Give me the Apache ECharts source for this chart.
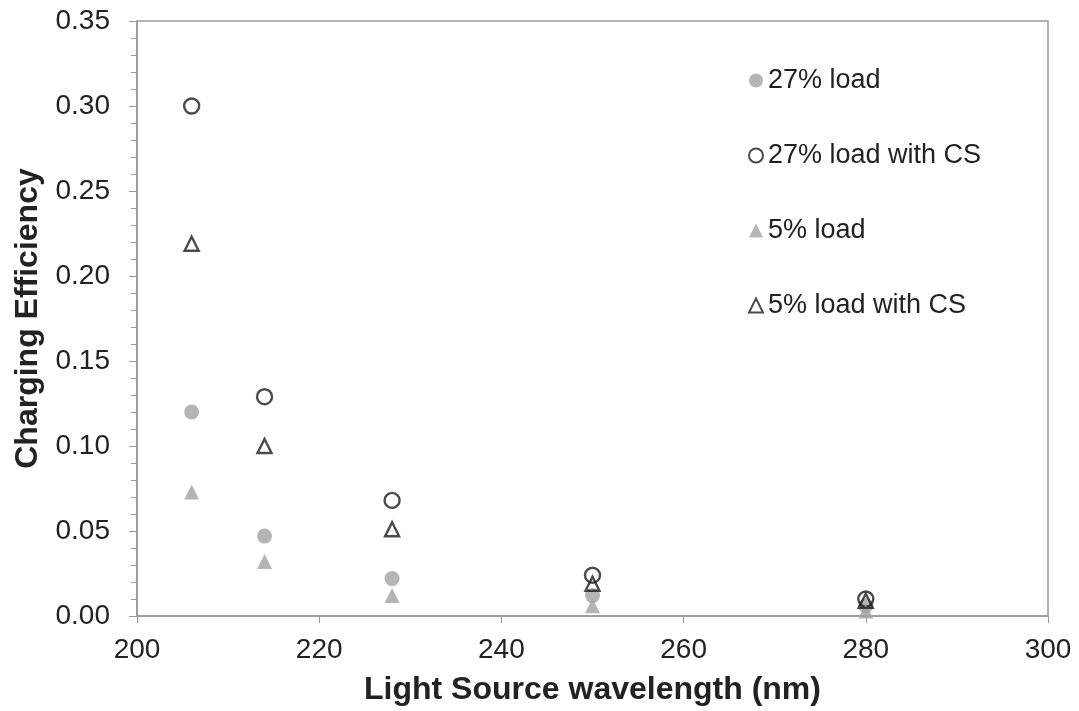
<!DOCTYPE html>
<html>
<head>
<meta charset="utf-8">
<title>Charging Efficiency</title>
<script src="https://cdn.jsdelivr.net/npm/echarts@6/dist/echarts.min.js"></script>
<style>
  html, body { margin: 0; padding: 0; background: #fff; }
  #chart { width: 1079px; height: 711px; }
</style>
</head>
<body>
<div id="chart"></div>
<script>
// wavelengths (nm)
var wavelengths = [206, 214, 228, 250, 280];

// charging efficiency per series
var load27 = [0.120, 0.047, 0.022, 0.012, 0.006];
var load27CS = [0.300, 0.129, 0.068, 0.024, 0.010];
var load5 = [0.073, 0.032, 0.012, 0.006, 0.003];
var load5CS = [0.219, 0.100, 0.051, 0.019, 0.009];

var seriesNames = ["27% load", "27% load with CS", "5% load", "5% load with CS"];

var font = "Liberation Sans, Arial, sans-serif";

function pairs(values) {
  return wavelengths.map(function (w, i) { return [w, values[i]]; });
}

var chart = echarts.init(document.getElementById("chart"));

var filledStyle = { color: "#a3a3a3" };
var openStyle = { color: "rgba(255,255,255,0)", borderColor: "#1e1e1e", borderWidth: 2.4 };

var option = {
  backgroundColor: "#fff",
  animation: false,
  grid: {
    left: 137,
    right: 31,
    top: 21,
    bottom: 95,
    show: true,
    borderColor: "#999",
    borderWidth: 1.5
  },
  legend: {
    orient: "vertical",
    left: 743,
    top: 62,
    itemWidth: 14,
    itemHeight: 14,
    itemGap: 48,
    textStyle: { fontFamily: font, fontSize: 27, color: "#222" },
    data: seriesNames
  },
  xAxis: {
    type: "value",
    min: 200,
    max: 300,
    interval: 20,
    name: "Light Source wavelength (nm)",
    nameLocation: "middle",
    nameGap: 58,
    nameTextStyle: { fontFamily: font, fontSize: 32, fontWeight: "bold", color: "#222" },
    axisLine: { lineStyle: { color: "#999", width: 1.5 } },
    axisTick: { show: true, length: 7, lineStyle: { color: "#999" } },
    axisLabel: { fontFamily: font, fontSize: 28, color: "#222", margin: 20 },
    splitLine: { show: false }
  },
  yAxis: {
    type: "value",
    min: 0,
    max: 0.35,
    interval: 0.05,
    name: "Charging Efficiency",
    nameLocation: "middle",
    nameGap: 86,
    nameTextStyle: { fontFamily: font, fontSize: 32, fontWeight: "bold", color: "#222" },
    axisLine: { show: true, lineStyle: { color: "#999", width: 1.5 } },
    axisTick: { show: true, length: 8, lineStyle: { color: "#999" } },
    minorTick: { show: true, splitNumber: 5, length: 6, lineStyle: { color: "#999" } },
    axisLabel: {
      fontFamily: font, fontSize: 28, color: "#222", margin: 27,
      formatter: function (v) { return v.toFixed(2); }
    },
    splitLine: { show: false }
  },
  series: [
    { name: seriesNames[0], type: "scatter", symbol: "circle", symbolSize: 15, itemStyle: filledStyle, data: pairs(load27) },
    { name: seriesNames[1], type: "scatter", symbol: "circle", symbolSize: 15, itemStyle: openStyle, data: pairs(load27CS) },
    { name: seriesNames[2], type: "scatter", symbol: "triangle", symbolSize: 15, itemStyle: filledStyle, data: pairs(load5) },
    { name: seriesNames[3], type: "scatter", symbol: "triangle", symbolSize: 14, itemStyle: openStyle, data: pairs(load5CS) }
  ]
};

chart.setOption(option);
</script>
</body>
</html>
